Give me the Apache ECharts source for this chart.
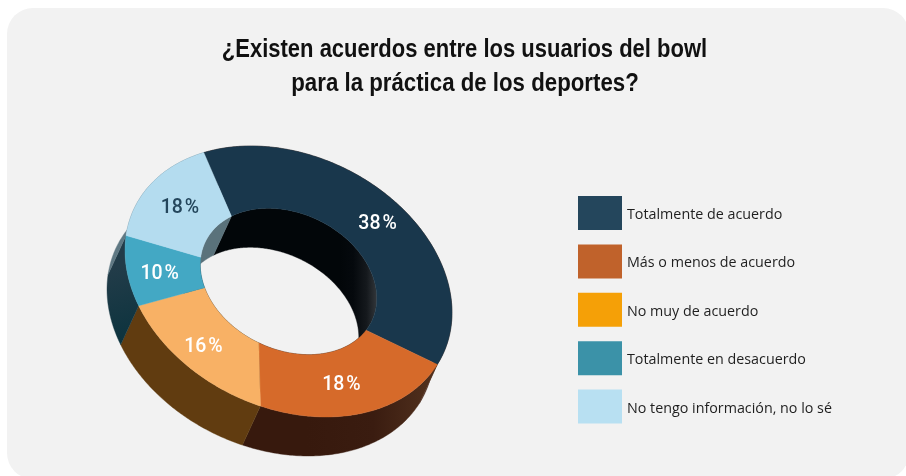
<!DOCTYPE html>
<html>
<head>
<meta charset="utf-8">
<style>html,body{margin:0;padding:0;background:#fff}#chart{width:906px;height:476px}</style>
<script src="https://cdn.jsdelivr.net/npm/echarts@6/dist/echarts.min.js"></script>
</head>
<body>
<div id="chart"></div>
<script>
// Survey answers, in percent, clockwise from the top of the ring
const categories = ['Totalmente de acuerdo', 'Más o menos de acuerdo', 'No muy de acuerdo', 'Totalmente en desacuerdo', 'No tengo información, no lo sé'];
const shares = [38, 18, 16, 10, 18];
const legendColors = ['#24465c', '#c0622b', '#f5a007', '#3b92a8', '#b8e0f2'];
const faceColors = ['#19374c', '#d66a2a', '#f8b165', '#43a8c4', '#b4dcef'];
const labelColors = ['#ffffff', '#ffffff', '#ffffff', '#ffffff', '#24465c'];
const titleLines = ['¿Existen acuerdos entre los usuarios del bowl', 'para la práctica de los deportes?'];

// Ring projection: a flat annulus tilted into a rotated ellipse
const RING = { cx: 288.5, cy: 281.5, a: 170.7, b: 126.3, inner: 0.54, tilt: 25.3 * Math.PI / 180, dx: -18, dy: 39 };
const RAD = Math.PI / 180;

// Foreshortening: where a share boundary lands on each rim, in degrees
function outerAngle(deg) { return -140.5 + deg + 8.5 + 12 * Math.cos((deg - 225) * RAD); }
function innerAngle(deg) { return -149.5 + deg + 17.5 + 21.4 * Math.cos((deg - 215) * RAD); }

function rimPoint(t, scale) {
  const u = RING.a * scale * Math.cos(t * RAD);
  const v = RING.b * scale * Math.sin(t * RAD);
  return [RING.cx + u * Math.cos(RING.tilt) - v * Math.sin(RING.tilt),
          RING.cy + u * Math.sin(RING.tilt) + v * Math.cos(RING.tilt)];
}
function rimArc(fn, scale, from, to) {
  const pts = [];
  const n = Math.max(8, Math.ceil(Math.abs(to - from) * 1.5));
  for (let i = 0; i <= n; i++) pts.push(rimPoint(fn(from + (to - from) * i / n), scale));
  return pts;
}
const shifted = pts => pts.map(p => [p[0] + RING.dx, p[1] + RING.dy]);
const linear = (x, y, x2, y2, stops) => new echarts.graphic.LinearGradient(x, y, x2, y2,
  stops.map((c, i) => ({ offset: i / (stops.length - 1), color: c })), true);

// Depth shading of the outer and inner walls of each slice
const outerWallFill = [
  '#4d2c1f',
  linear(240, 0, 440, 0, ['#37190d', '#37190d', '#3a1c10', '#54331f']),
  '#613c10',
  linear(108, 270, 130, 340, ['#223c49', '#0c333e']),
  '#5f7883'
];
const innerWallFill = [
  linear(340, 0, 380, 0, ['#020609', '#05090d', '#15191d', '#3c4044']),
  '#15232c',
  '#15232c',
  '#15232c',
  '#5a727b'
];
// Nudges that keep the percentages clear of the hole
const labelNudge = [[22, 16], [2, 1], [0, 7], [-4, 4], [0, -2]];

let running = 0;
const spans = shares.map(v => { const s = [running, running + v]; running += v; return s; });

function wallSeries(i) {
  return {
    type: 'custom', coordinateSystem: 'none', silent: true, z: 1,
    data: [spans[i]],
    renderItem: (params, api) => {
      const from = api.value(0) * 3.6, to = api.value(1) * 3.6;
      const outer = rimArc(outerAngle, 1, from, to);
      const inner = rimArc(innerAngle, RING.inner, from, to);
      return {
        type: 'group',
        children: [
          { type: 'polygon', shape: { points: outer.concat(shifted(outer).reverse()) },
            style: { fill: outerWallFill[i], stroke: outerWallFill[i], lineWidth: 0.4 } },
          { type: 'polygon', shape: { points: inner.concat(shifted(inner).reverse()) },
            style: { fill: innerWallFill[i], stroke: innerWallFill[i], lineWidth: 0.4 } }
        ]
      };
    }
  };
}
function faceSeries(i) {
  return {
    type: 'custom', coordinateSystem: 'none', silent: true, z: 2,
    name: categories[i],
    itemStyle: { color: legendColors[i] },
    data: [spans[i]],
    renderItem: (params, api) => {
      const from = api.value(0) * 3.6, to = api.value(1) * 3.6, mid = (from + to) / 2;
      const outer = rimArc(outerAngle, 1, from, to);
      const inner = rimArc(innerAngle, RING.inner, from, to);
      const a = rimPoint(outerAngle(mid), 1), b = rimPoint(innerAngle(mid), RING.inner);
      return {
        type: 'group',
        children: [
          { type: 'polygon', shape: { points: outer.concat(inner.reverse()) },
            style: { fill: faceColors[i], stroke: faceColors[i], lineWidth: 0.4 } },
          { type: 'text', z2: 5,
            x: (a[0] + b[0]) / 2 + labelNudge[i][0], y: (a[1] + b[1]) / 2 + labelNudge[i][1],
            style: { text: shares[i] + '\u200a%', fill: labelColors[i], font: '500 19.5px Roboto', align: 'center', verticalAlign: 'middle' } }
        ]
      };
    }
  };
}

const titleFont = 'bold 25px "Liberation Sans"';
const chart = echarts.init(document.getElementById('chart'), null, { renderer: 'canvas' });
chart.setOption({
  animation: false,
  graphic: [
    { type: 'rect', z: -10, shape: { x: 7, y: 8, width: 902, height: 471, r: 26 }, style: { fill: '#f2f2f2' } },
    { type: 'text', z: 5, x: 464.5, y: 50.5, scaleX: 0.88, style: { text: titleLines[0], fill: '#111', font: titleFont, align: 'center', verticalAlign: 'middle' } },
    { type: 'text', z: 5, x: 465, y: 84, scaleX: 0.89, style: { text: titleLines[1], fill: '#111', font: titleFont, align: 'center', verticalAlign: 'middle' } }
  ],
  legend: {
    orient: 'vertical', left: 578, top: 196, padding: 0, itemWidth: 44, itemHeight: 34, itemGap: 14.4, selectedMode: false,
    icon: 'rect',
    formatter: name => '{row|' + name + '}',
    textStyle: { rich: { row: { color: '#1f1f1f', fontFamily: '"Open Sans"', fontSize: 14.3, padding: [4, 0, 0, 0] } } },
    data: categories.map((name, i) => ({ name, itemStyle: { color: legendColors[i] } }))
  },
  series: shares.map((_, i) => wallSeries(i)).concat(shares.map((_, i) => faceSeries(i)))
});
</script>
</body>
</html>
